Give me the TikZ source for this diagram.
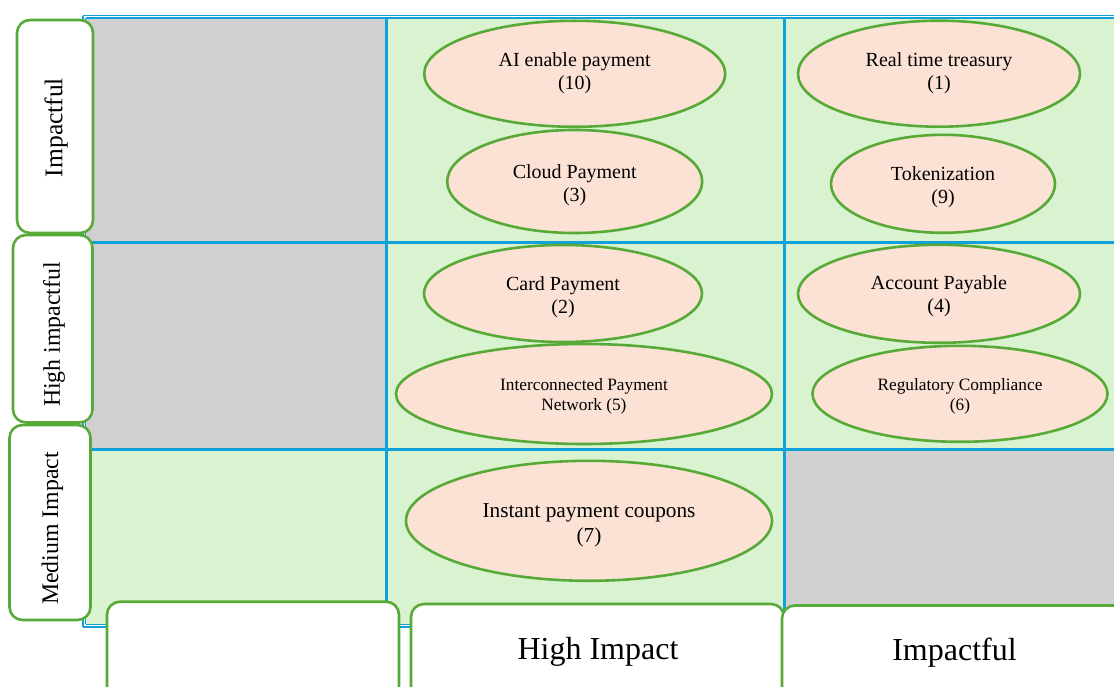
\documentclass[tikz,border=0pt]{standalone}
\usepackage{fontspec}
\setmainfont{Liberation Serif}
\usetikzlibrary{shapes.geometric}
\definecolor{gridblue}{RGB}{16,160,218}
\definecolor{bordergreen}{RGB}{88,170,56}
\definecolor{cellgreen}{RGB}{217,242,208}
\definecolor{cellgray}{RGB}{208,208,208}
\definecolor{ovalfill}{RGB}{251,226,213}
% two centred lines, first baseline raised #1 above the node centre
\newcommand\ovtext[3]{\raisebox{#1}[0pt][0pt]{\begin{tabular}[t]{@{}c@{}}#2\\#3\end{tabular}}}
\tikzset{
  oval/.style={ellipse, draw=bordergreen, fill=ovalfill, line width=2.6pt, inner sep=0pt, font=\fontsize{20}{23}\selectfont},
  ovalsmall/.style={oval, font=\fontsize{17.3}{19.6}\selectfont},
  ovalbig/.style={oval, font=\fontsize{21.3}{25.3}\selectfont},
  labelbox/.style={draw=bordergreen, fill=white, line width=2.6pt, rounded corners=13pt},
  gridline/.style={draw=gridblue, line width=3pt},
  framethin/.style={draw=gridblue, line width=1.1pt},
}
\begin{document}
\begin{tikzpicture}[x=1pt,y=-1pt]
\useasboundingbox (0,0) rectangle (1114,687);
\begin{scope}
\clip (0,0) rectangle (1114,687);
% cells
\fill[cellgray]  (86,18) rectangle (386,243);
\fill[cellgreen] (386,18) rectangle (784,243);
\fill[cellgreen] (784,18) rectangle (1120,243);
\fill[cellgray]  (86,243) rectangle (386,449);
\fill[cellgreen] (386,243) rectangle (784,449);
\fill[cellgreen] (784,243) rectangle (1120,449);
\fill[cellgreen] (86,449) rectangle (386,625);
\fill[cellgreen] (386,449) rectangle (784,625);
\fill[cellgray]  (784,449) rectangle (1120,625);
% frame (double)
\draw[framethin] (83,15.7) -- (1120,15.7);
\draw[framethin] (83,15.7) -- (83,627);
\draw[framethin] (83,627) -- (784,627);
\draw[framethin, line width=1.4pt] (85.5,18.2) -- (1120,18.2);
\draw[framethin, line width=1.4pt] (85.5,18.2) -- (85.5,624.3);
\draw[framethin, line width=1.4pt] (85.5,624.3) -- (784,624.3);
% grid lines
\draw[gridline] (386.5,18) -- (386.5,626);
\draw[gridline] (784,18) -- (784,626);
\draw[gridline] (86,243) -- (1120,243);
\draw[gridline] (86,449) -- (1120,449);
\end{scope}
% ovals
\node[oval, minimum width=301pt, minimum height=106pt] (ai) at (574.7,73.8) {\ovtext{7.3pt}{AI enable payment}{(10)}};
\node[oval, minimum width=255pt, minimum height=103pt] (cloud) at (574.7,181.5) {\ovtext{3.2pt}{Cloud Payment}{(3)}};
\node[oval, minimum width=282pt, minimum height=106pt] (rtt) at (939,73.7) {\ovtext{7pt}{Real time treasury}{(1)}};
\node[oval, minimum width=224pt, minimum height=98pt] (tok) at (943,183.8) {\ovtext{2.8pt}{Tokenization}{(9)}};
\node[oval, minimum width=278pt, minimum height=97pt] (card) at (563,293.5) {\ovtext{3.3pt}{Card Payment}{(2)}};
\node[ovalsmall, minimum width=376pt, minimum height=100pt] (ipn) at (584,394) {\ovtext{3.3pt}{Interconnected Payment}{Network (5)}};
\node[oval, minimum width=282pt, minimum height=98pt] (ap) at (939,293.8) {\ovtext{3.8pt}{Account Payable}{(4)}};
\node[ovalsmall, minimum width=295pt, minimum height=96pt] (reg) at (960,393.8) {\ovtext{3.1pt}{Regulatory Compliance}{(6)}};
\node[ovalbig, minimum width=366pt, minimum height=120pt] (ipc) at (589,520.8) {\ovtext{3.5pt}{Instant payment coupons}{(7)}};
% row labels
\draw[labelbox] (17,20) rectangle (93,233);
\node[rotate=90, font=\fontsize{25.5}{30}\selectfont] (rowA) at (56,127.5) {Impactful};
\draw[labelbox] (13,235) rectangle (92.5,422.5);
\node[rotate=90, font=\fontsize{23.8}{28}\selectfont] (rowB) at (54,334.5) {High impactful};
\draw[labelbox] (9.5,425) rectangle (90.5,620);
\node[rotate=90, font=\fontsize{23.8}{28}\selectfont] (rowC) at (52.5,528.5) {Medium Impact};
% column labels
\begin{scope}
\clip (0,0) rectangle (1114,687);
\draw[labelbox] (107,601.7) rectangle (399,700);
\draw[labelbox] (411,604) rectangle (784,700);
\node[anchor=base, font=\fontsize{32}{36}\selectfont] (colB) at (598,659.5) {High Impact};
\draw[labelbox] (782,605.5) rectangle (1130,700);
\node[anchor=base, font=\fontsize{32}{36}\selectfont] (colC) at (954.5,660) {Impactful};
\end{scope}
\end{tikzpicture}
\end{document}
